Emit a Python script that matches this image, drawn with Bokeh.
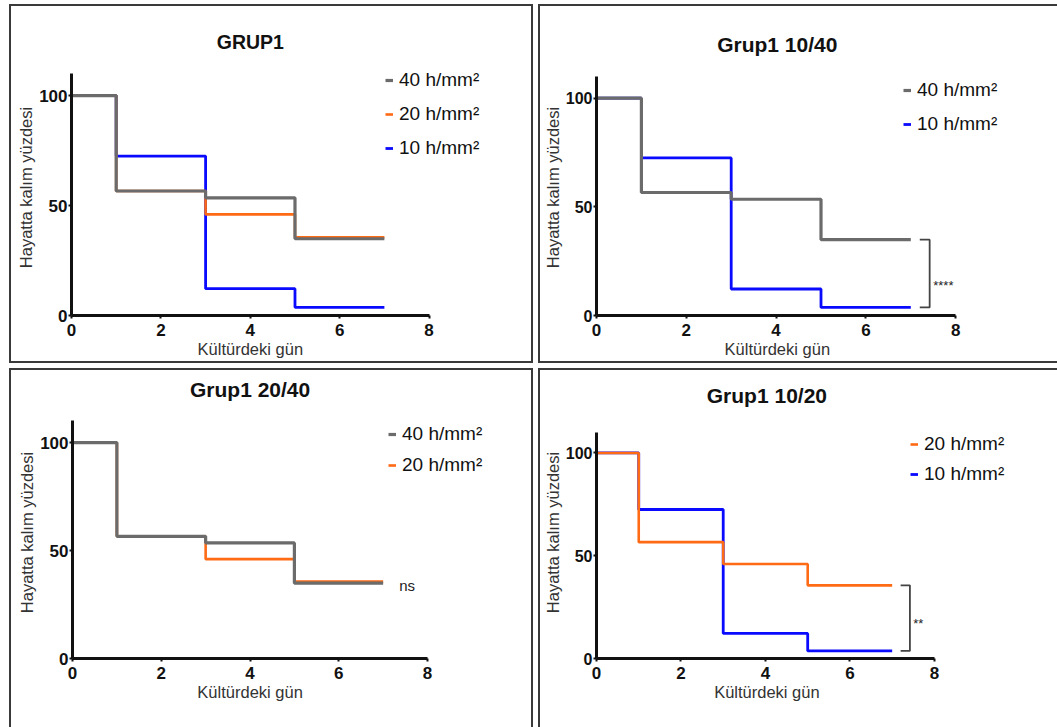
from bokeh.plotting import figure
from bokeh.models import Legend, LegendItem, Label, Range1d, FixedTicker, Title, Spacer
from bokeh.layouts import row, column
from bokeh.embed import file_html
from bokeh.resources import INLINE

# ---- data (survival %, per culture day) ----
days = [0, 1, 3, 5, 7]
surv_40 = [100, 56.6, 53.5, 34.9, 34.9]
surv_20 = [100, 56.6, 46.0, 35.6, 35.6]
surv_10 = [100, 72.5, 12.2, 3.7, 3.7]
labels = {"40": "40 h/mm²", "20": "20 h/mm²", "10": "10 h/mm²"}
values = {"40": surv_40, "20": surv_20, "10": surv_10}
x_ticks = [0, 2, 4, 6, 8]
y_ticks = [0, 50, 100]
x_label = "Kültürdeki gün"
y_label = "Hayatta kalım yüzdesi"

colors = {"40": "#6b6b6b", "20": "#ff6a14", "10": "#0a0aff"}
widths = {"40": 3.2, "20": 2.6, "10": 2.8}
draw_order = ["10", "20", "40"]
FONT = "Liberation Sans"

# Arial / Liberation Sans advance widths (per 1000 em) for centring texts on the 0..8 axis
W_REG = {"K": 667, "ü": 556, "l": 222, "t": 278, "r": 333, "d": 556, "e": 556, "k": 500,
         "i": 222, " ": 278, "g": 556, "n": 556}
W_BOLD = {"G": 778, "R": 722, "U": 722, "P": 667, "1": 556, "r": 389, "u": 611, "p": 611,
          " ": 278, "0": 556, "/": 278, "4": 556, "2": 556}


def text_w(s, size, bold):
    tab = W_BOLD if bold else W_REG
    return sum(tab.get(c, 556) for c in s) * size / 1000.0


def panel(title, title_size, keys, w, h, ml, mr, mt, mb, x_end, y_end, ppu, leg_xy, leg_spacing,
          title_standoff, border, ytick_size, bracket=None, sig_text=None, sig_xy=None):
    p = figure(width=w, height=h, x_range=Range1d(0, x_end), y_range=Range1d(0, y_end),
               output_backend="svg", toolbar_location=None,
               min_border_left=ml, min_border_right=mr, min_border_top=mt, min_border_bottom=mb,
               y_axis_label=y_label, title=None, styles=border)
    p.grid.visible = False
    p.outline_line_color = None
    # title centred over the 0..8 axis span
    p.add_layout(Title(text=title, align="left", offset=4 * ppu - text_w(title, title_size, True) / 2,
                       text_font=FONT, text_font_size=f"{title_size}px", text_font_style="bold",
                       text_color="#111111", standoff=title_standoff), "above")
    p.xaxis.ticker = FixedTicker(ticks=x_ticks)
    p.xaxis.bounds = (0, 8)
    p.yaxis.ticker = FixedTicker(ticks=y_ticks)
    p.yaxis.bounds = (0, 110)
    for ax in (p.xaxis, p.yaxis):
        ax.axis_line_width = 3
        ax.axis_line_color = "#111111"
        ax.major_tick_line_width = 2
        ax.major_tick_line_color = "#111111"
        ax.major_tick_in = 0
        ax.major_tick_out = 3
        ax.minor_tick_line_color = None
        ax.major_label_text_font = FONT
        ax.major_label_text_font_size = "17px"
        ax.major_label_text_font_style = "bold"
        ax.major_label_text_color = "#111111"
        ax.major_label_standoff = 1
        ax.axis_label_text_font = FONT
        ax.axis_label_text_font_size = "16.5px"
        ax.axis_label_text_font_style = "normal"
        ax.axis_label_text_color = "#333333"
        ax.axis_label_standoff = 1
    p.yaxis.major_label_text_font_size = f"{ytick_size}px"
    p.xaxis.major_label_standoff = 5
    p.add_layout(Title(text=x_label, align="left", offset=4 * ppu - text_w(x_label, 16.5, False) / 2,
                       vertical_align="top", standoff=3,
                       text_font=FONT, text_font_size="16.5px", text_font_style="normal",
                       text_color="#333333"), "below")
    renderers = {}
    for k in draw_order:
        if k in keys:
            renderers[k] = p.step(days, values[k], mode="after", line_color=colors[k],
                                  line_width=widths[k])
    items = [LegendItem(label=labels[k], renderers=[renderers[k]]) for k in keys]
    leg = Legend(items=items, location=leg_xy, orientation="vertical",
                 glyph_width=8, glyph_height=20, label_height=20, label_standoff=6,
                 spacing=leg_spacing, padding=0, margin=0,
                 border_line_alpha=0, background_fill_alpha=0,
                 label_text_font=FONT, label_text_font_size="19px", label_text_color="#111111")
    p.add_layout(leg)
    if bracket is not None:
        ka, kb = bracket
        top = values[ka][-1]
        bot = values[kb][-1]
        x_end_day = days[-1]
        p.line([x_end_day + 0.2, x_end_day + 0.42, x_end_day + 0.42, x_end_day + 0.2],
               [top, top, bot, bot], line_color="#444444", line_width=1.8)
    if sig_text is not None:
        p.add_layout(Label(x=sig_xy[0], y=sig_xy[1], text=sig_text, text_font=FONT,
                           text_font_size="15px" if sig_text == "ns" else "13px",
                           text_baseline="middle", text_color="#222222"))
    return p


B = "2px solid #3a3a3a"
p1 = panel("GRUP1", 19.5, ["40", "20", "10"], 524, 359, 60, 13, 53, 50, 10.09, 116.4, 44.7,
           (314, 156), 12, 13, {"border": B}, 17)
p2 = panel("Grup1 10/40", 21, ["40", "10"], 519, 359, 53, 14, 53, 50, 10.0, 117.8, 45.2,
           (307, 180), 12, 7, {"border-left": B, "border-top": B, "border-bottom": B}, 16,
           bracket=("40", "10"), sig_text="****", sig_xy=(7.5, 14))
p3 = panel("Grup1 20/40", 21, ["40", "20"], 524, 359, 61, 13, 36, 71, 10.14, 116.7, 44.4,
           (316, 182), 9, 11, {"border-left": B, "border-top": B, "border-right": B}, 17,
           sig_text="ns", sig_xy=(7.36, 34))
p4 = panel("Grup1 10/20", 21, ["20", "10"], 519, 359, 52, 14, 36, 71, 10.63, 122.6, 42.6,
           (314, 173), 8, 0, {"border-left": B, "border-top": B}, 16,
           bracket=("20", "10"), sig_text="**", sig_xy=(7.5, 17))

grid = column(row(p1, p2, spacing=5), row(p3, p4, spacing=5), spacing=5)
layout = column(Spacer(height=4), row(Spacer(width=9), grid))

open("out.html", "w").write(file_html(layout, INLINE))
